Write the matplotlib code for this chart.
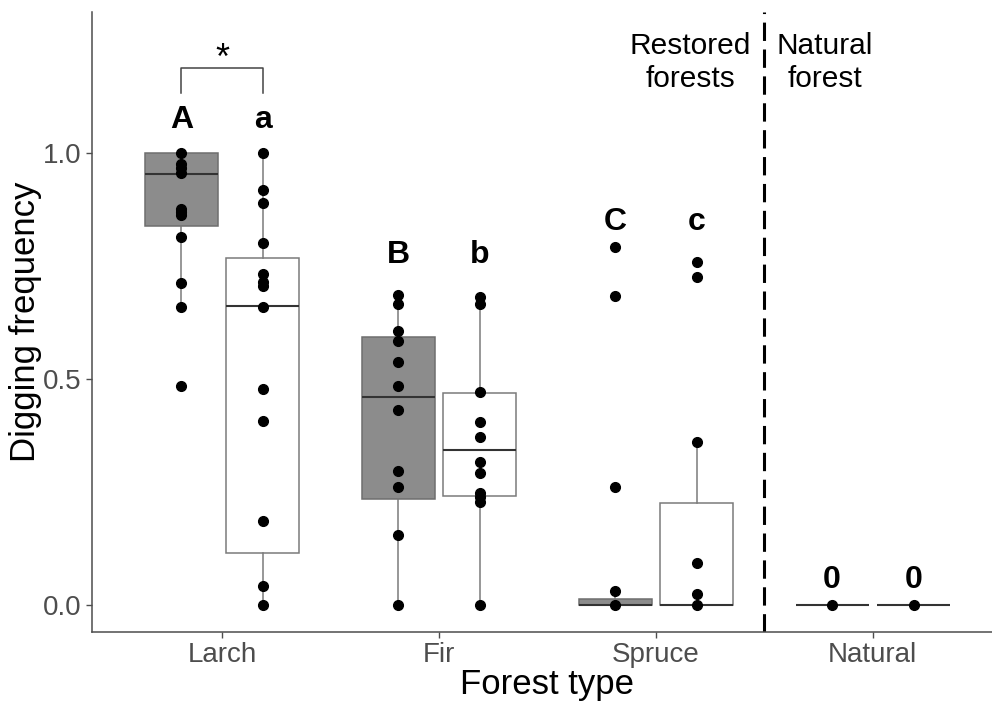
import numpy as np
import matplotlib
matplotlib.use("Agg")
import matplotlib.pyplot as plt

plt.rcParams['font.family'] = ['Liberation Sans', 'DejaVu Sans']

# forest types on the x axis
forest_types = ["Larch", "Fir", "Spruce", "Natural"]

# digging frequency per plot, two survey groups per forest type
larch_dark = [1.0, 0.975, 0.966, 0.955, 0.877, 0.870, 0.863, 0.815, 0.713, 0.660, 0.484]
larch_light = [1.0, 0.918, 0.890, 0.802, 0.732, 0.715, 0.706, 0.659, 0.478, 0.408, 0.186, 0.042, 0.0]
fir_dark = [0.686, 0.667, 0.607, 0.584, 0.538, 0.485, 0.431, 0.297, 0.260, 0.155, 0.0]
fir_light = [0.682, 0.667, 0.472, 0.406, 0.371, 0.317, 0.291, 0.247, 0.238, 0.229, 0.0]
spruce_dark = [0.793, 0.684, 0.260, 0.032, 0.0]
spruce_light = [0.760, 0.726, 0.360, 0.092, 0.024, 0.0]
natural_dark = [0.0]
natural_light = [0.0]

# box summaries: lower whisker, Q1, median, Q3, upper whisker
dark_whislo = [0.660, 0.0, 0.0, 0.0]
dark_q1 = [0.839, 0.235, 0.0, 0.0]
dark_med = [0.954, 0.460, 0.0, 0.0]
dark_q3 = [1.0, 0.592, 0.014, 0.0]
dark_whishi = [1.0, 0.686, 0.032, 0.0]

light_whislo = [0.0, 0.0, 0.0, 0.0]
light_q1 = [0.116, 0.241, 0.0, 0.0]
light_med = [0.661, 0.344, 0.0, 0.0]
light_q3 = [0.767, 0.470, 0.226, 0.0]
light_whishi = [1.0, 0.682, 0.360, 0.0]

# significance letters above each box
dark_letters = ["A", "B", "C", "0"]
light_letters = ["a", "b", "c", "0"]
letter_y = [1.074, 0.774, 0.847, 0.055]

dark_points = [larch_dark, fir_dark, spruce_dark, natural_dark]
light_points = [larch_light, fir_light, spruce_light, natural_light]

fig = plt.figure(figsize=(9.92, 7.04), dpi=100)
ax = fig.add_axes([92 / 992, 72 / 704, 911 / 992, 620 / 704])

pos = np.arange(1, 5)
off = 0.1875
bw = 0.3375


def make_stats(lo, q1, med, q3, hi):
    return [dict(whislo=a, q1=b, med=c, q3=d, whishi=e, fliers=[])
            for a, b, c, d, e in zip(lo, q1, med, q3, hi)]


box_kw = dict(widths=bw, patch_artist=True, showfliers=False, showcaps=False,
              whiskerprops=dict(color="#7a7a7a", lw=1.1),
              medianprops=dict(color="#333333", lw=1.5))

ax.bxp(make_stats(dark_whislo, dark_q1, dark_med, dark_q3, dark_whishi),
       positions=pos - off,
       boxprops=dict(facecolor="#8c8c8c", edgecolor="#6e6e6e", lw=1.1), **box_kw)
ax.bxp(make_stats(light_whislo, light_q1, light_med, light_q3, light_whishi),
       positions=pos + off,
       boxprops=dict(facecolor="white", edgecolor="#7a7a7a", lw=1.1), **box_kw)

for i in range(4):
    ax.plot([pos[i] - off] * len(dark_points[i]), dark_points[i], "o",
            color="black", ms=7, zorder=5)
    ax.plot([pos[i] + off] * len(light_points[i]), light_points[i], "o",
            color="black", ms=7, zorder=5)
    ax.text(pos[i] - off, letter_y[i], dark_letters[i], ha="center", va="center",
            fontsize=23, fontweight="bold")
    ax.text(pos[i] + off, letter_y[i], light_letters[i], ha="center", va="center",
            fontsize=23, fontweight="bold")

# Larch pairwise bracket
ax.plot([1 - off, 1 - off, 1 + off, 1 + off], [1.133, 1.188, 1.188, 1.133],
        color="#444444", lw=1.1)
ax.text(1, 1.207, "*", ha="center", va="center", fontsize=26)

# restored vs natural divider
ax.axvline(3.5, color="black", lw=2.2, dashes=(6, 2.8))
ax.text(3.157, 1.2, "Restored\nforests", ha="center", va="center", fontsize=21.5,
        linespacing=1.25)
ax.text(3.78, 1.2, "Natural\nforest", ha="center", va="center", fontsize=21.5,
        linespacing=1.25)

ax.set_xlim(0.4, 4.6)
ax.set_ylim(-0.0597, 1.312)
ax.set_xticks(pos)
ax.set_xticklabels(forest_types)
ax.set_yticks([0, 0.5, 1.0])
ax.set_yticklabels(["0.0", "0.5", "1.0"])
ax.tick_params(colors="#4d4d4d", labelsize=20, length=4, width=1)
ax.set_xlabel("Forest type", fontsize=25, labelpad=0)
ax.set_ylabel("Digging frequency", fontsize=25, labelpad=1)

for s in ["top", "right"]:
    ax.spines[s].set_visible(False)
for s in ["left", "bottom"]:
    ax.spines[s].set_color("#4d4d4d")
    ax.spines[s].set_linewidth(1.1)

fig.savefig("out.png", dpi=100)
